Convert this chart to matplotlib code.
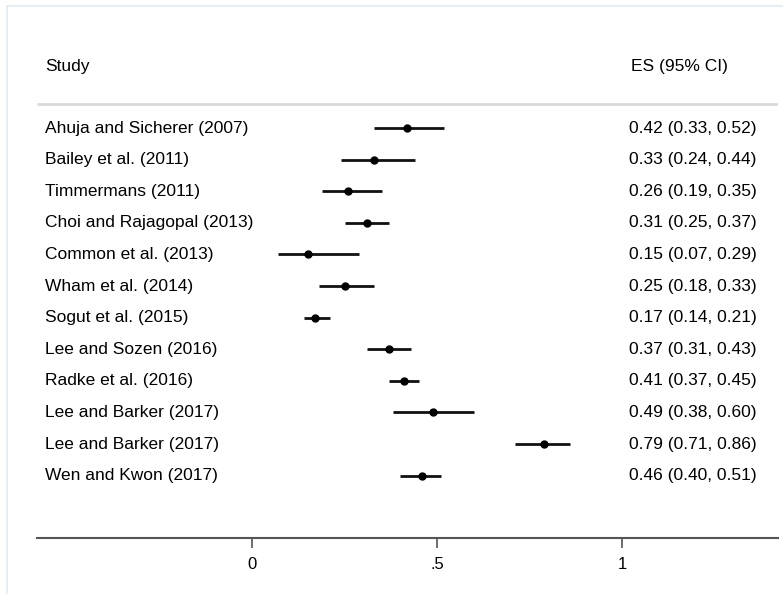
import matplotlib
matplotlib.use("Agg")
import matplotlib.pyplot as plt
from matplotlib.lines import Line2D

studies = ["Ahuja and Sicherer (2007)", "Bailey et al. (2011)", "Timmermans (2011)",
           "Choi and Rajagopal (2013)", "Common et al. (2013)", "Wham et al. (2014)",
           "Sogut et al. (2015)", "Lee and Sozen (2016)", "Radke et al. (2016)",
           "Lee and Barker (2017)", "Lee and Barker (2017)", "Wen and Kwon (2017)"]
es = [0.42, 0.33, 0.26, 0.31, 0.15, 0.25, 0.17, 0.37, 0.41, 0.49, 0.79, 0.46]
lo = [0.33, 0.24, 0.19, 0.25, 0.07, 0.18, 0.14, 0.31, 0.37, 0.38, 0.71, 0.40]
hi = [0.52, 0.44, 0.35, 0.37, 0.29, 0.33, 0.21, 0.43, 0.45, 0.60, 0.86, 0.51]
ticks = [0, 0.5, 1]
tick_labels = ["0", ".5", "1"]

plt.rcParams['font.family'] = ['Liberation Sans', 'DejaVu Sans']
W, H = 783, 594
fig = plt.figure(figsize=(W/100, H/100), dpi=100)
fig.patch.set_facecolor('white')

# pixel layout
ax_left, ax_right, ax_bottom = 37, 778, 538
x0_px, unit_px = 252, 370
def px2x(p):
    return (p - x0_px) / unit_px

ax = fig.add_axes([ax_left/W, (H-ax_bottom)/H, (ax_right-ax_left)/W, ax_bottom/H])
ax.set_xlim(px2x(ax_left), px2x(ax_right))
ax.set_ylim(ax_bottom, 0)
for s in ['top', 'left', 'right']:
    ax.spines[s].set_visible(False)
ax.spines['bottom'].set_color('#555555')
ax.spines['bottom'].set_linewidth(1.5)
ax.set_yticks([])
ax.set_xticks(ticks)
ax.set_xticklabels(tick_labels)
ax.tick_params(axis='x', direction='out', length=7, width=1.2, color='#555555',
               labelsize=12, pad=7, labelcolor='black')
ax.patch.set_alpha(0)

row0, step = 128, 31.6
ys = [row0 + i*step for i in range(len(studies))]

ax.hlines(ys, lo, hi, color='#111111', lw=2)
ax.plot(es, ys, 'o', color='black', ms=5)

fs = 12.5
for y, name, e, l, h in zip(ys, studies, es, lo, hi):
    ax.text(px2x(45), y, name, fontsize=fs, va='center', ha='left', clip_on=False)
    ax.text(px2x(629), y, f"{e:.2f} ({l:.2f}, {h:.2f})", fontsize=fs, va='center', ha='left', clip_on=False)

ax.text(px2x(45), 66, "Study", fontsize=fs, va='center', ha='left')
ax.text(px2x(631), 66, "ES (95% CI)", fontsize=fs, va='center', ha='left')
ax.plot([px2x(ax_left), px2x(ax_right)], [104, 104], color='#d9d9d9', lw=2, solid_capstyle='butt')

# faint outer frame
fig.add_artist(Line2D([7/W, 1], [1-6/H, 1-6/H], color='#e3eaee', lw=1.2, transform=fig.transFigure))
fig.add_artist(Line2D([7/W, 7/W], [0, 1-6/H], color='#e3eaee', lw=1.2, transform=fig.transFigure))

fig.savefig("out.png", dpi=100)
